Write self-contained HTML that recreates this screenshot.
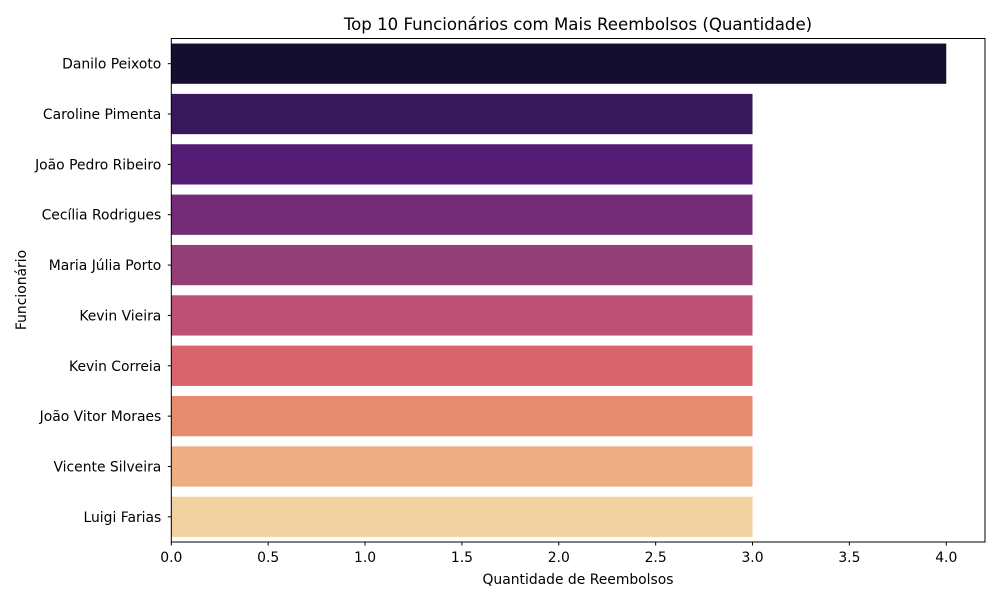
<!DOCTYPE html>
<html><head><meta charset="utf-8"><style>
body{margin:0;background:#fff}
svg text{font-family:"DejaVu Sans","Liberation Sans",sans-serif;fill:#000}
</style></head><body>
<svg id="chart" width="1000" height="600" viewBox="0 0 1000 600">
<text x="578" y="30" font-size="16.6" text-anchor="middle">Top 10 Funcionários com Mais Reembolsos (Quantidade)</text>
<text x="578" y="584" font-size="13.9" text-anchor="middle">Quantidade de Reembolsos</text>
<text transform="translate(26,290) rotate(-90)" font-size="13.9" text-anchor="middle">Funcionário</text>
<g id="bars"></g><g id="yt"></g><g id="xt"></g>
<rect x="171.3" y="38.5" width="813.7" height="503.5" fill="none" stroke="#000" stroke-width="1"/>
</svg>
<script>
const names=["Danilo Peixoto","Caroline Pimenta","João Pedro Ribeiro","Cecília Rodrigues","Maria Júlia Porto","Kevin Vieira","Kevin Correia","João Vitor Moraes","Vicente Silveira","Luigi Farias"];
const values=[4,3,3,3,3,3,3,3,3,3];
const colors=["#150f2f","#36185b","#541c72","#742c76","#933f75","#bc5075","#d8646d","#e78b6f","#efad84","#f2d2a0"];
const xTicks=[0,0.5,1,1.5,2,2.5,3,3.5,4];
const xTickLabels=["0.0","0.5","1.0","1.5","2.0","2.5","3.0","3.5","4.0"];
const L=171.3,R=985,T=38.5,B=542,XMAX=4.2;
const ns="http://www.w3.org/2000/svg";
const x=v=>L+(R-L)*v/XMAX;
const band=(B-T)/names.length;
const yc=i=>T+band*(i+0.5);
function mk(t,a,p){const e=document.createElementNS(ns,t);for(const k in a)e.setAttribute(k,a[k]);p.appendChild(e);return e;}
const gb=document.getElementById('bars'),gy=document.getElementById('yt'),gx=document.getElementById('xt');
names.forEach((n,i)=>{
 const r=mk('rect',{x:x(0),y:yc(i)-band*0.4,width:x(values[i])-x(0),height:band*0.8,fill:colors[i]},gb);
 
 
 const tk=mk('line',{x1:L-3.5,x2:L,y1:yc(i),y2:yc(i),stroke:'#000'},gy);
 
 
 const t=mk('text',{x:L-10,y:yc(i)+5,'font-size':13.9,'text-anchor':'end'},gy);
 t.textContent=n;
 
 
});
xTicks.forEach((v,i)=>{
 const tk=mk('line',{x1:x(v),x2:x(v),y1:B,y2:B+3.5,stroke:'#000'},gx);
 
 
 const t=mk('text',{x:x(v),y:B+20,'font-size':13.9,'text-anchor':'middle'},gx);
 t.textContent=xTickLabels[i];
 
 
});
</script>
</body></html>
